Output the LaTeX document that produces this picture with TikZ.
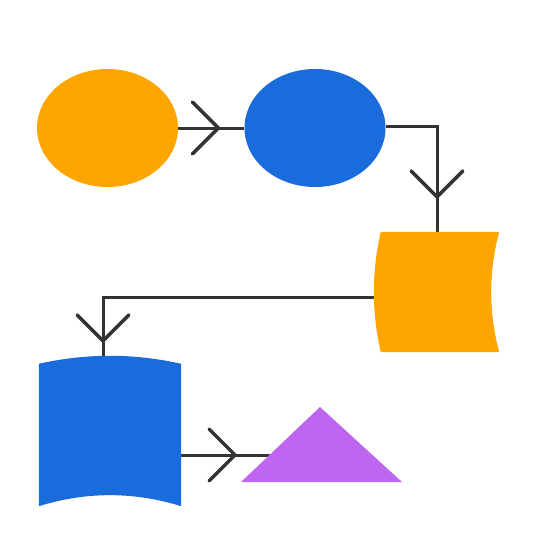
\documentclass[tikz,border=0pt]{standalone}
\usetikzlibrary{shapes.geometric,decorations.markings,backgrounds,calc}

\definecolor{flowblue}{HTML}{1A6BDB}
\definecolor{floworange}{HTML}{FFA500}
\definecolor{flowpurple}{HTML}{BF66F0}
\definecolor{linkgray}{HTML}{333333}

\tikzset{
  blob/.style={ellipse, minimum width=141pt, minimum height=118pt, inner sep=0pt},
  frame/.style={rectangle, inner sep=0pt},
  link/.style={draw=linkgray, line width=3pt},
  vtip/.style={postaction={decorate}, decoration={markings,
      mark=at position #1 with {\draw[line width=3.5pt, line cap=round, line join=round, linkgray]
        (-26pt,-26pt) -- (0pt,0pt) -- (-26pt,26pt);}}},
}

\begin{document}
\begin{tikzpicture}[x=1pt, y=-1pt]
  \useasboundingbox (0,0) rectangle (551,551);

  %% ellipses
  \node[blob, fill=floworange] (start) at (107.5,128) {};
  \node[blob, fill=flowblue] (next) at (315,128) {};

  %% stored data box
  \node[frame, minimum width=118pt, minimum height=120pt] (store) at (440,292) {};
  \fill[floworange] (store.north west) -- (store.north east)
    .. controls ($(store.north east)!1/3!(store.south east)+(-10.7,0)$)
       and ($(store.north east)!2/3!(store.south east)+(-10.7,0)$) .. (store.south east)
    -- (store.south west)
    .. controls ($(store.south west)!1/3!(store.north west)+(-9.3,0)$)
       and ($(store.south west)!2/3!(store.north west)+(-9.3,0)$) .. cycle;

  %% document box
  \node[frame, minimum width=142pt, minimum height=142pt] (doc) at (110,435) {};
  \fill[flowblue] (doc.north west)
    .. controls ($(doc.north west)!1/3!(doc.north east)+(0,-10.7)$)
       and ($(doc.north west)!2/3!(doc.north east)+(0,-10.7)$) .. (doc.north east)
    -- (doc.south east)
    .. controls ($(doc.south east)!1/3!(doc.south west)+(0,-14.7)$)
       and ($(doc.south east)!2/3!(doc.south west)+(0,-14.7)$) .. (doc.south west) -- cycle;

  %% triangle
  \fill[flowpurple] (241,482) -- (320,407) -- (402,482) -- cycle;
  \coordinate (tri) at (270,455);

  %% links
  \begin{scope}[on background layer]
    \draw[link, vtip=-26pt] (start.east) -- (next.west);
    \draw[link, vtip=-35pt] ([yshift=2pt]next.east) -| ([xshift=-3pt]store.north);
    \draw[link, vtip=-23pt] ([yshift=-5pt]store.west) -| ([xshift=-7pt]doc.north);
    \draw[link, vtip=-35pt] (doc.east |- tri) -- (tri);
  \end{scope}

\end{tikzpicture}
\end{document}
